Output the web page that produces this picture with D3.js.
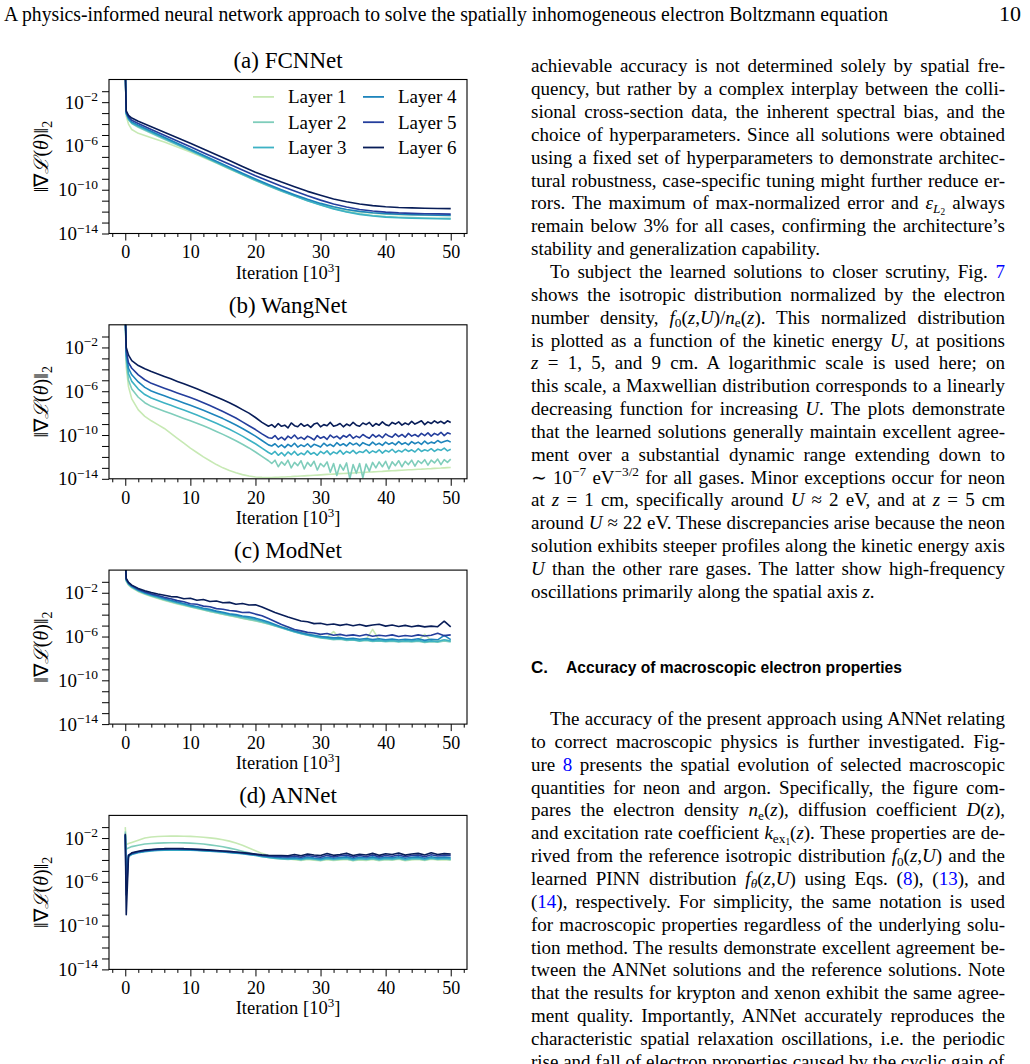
<!DOCTYPE html>
<html>
<head>
<meta charset="utf-8">
<script src="https://cdn.jsdelivr.net/npm/d3@7"></script>
<style>
body { margin: 0; background: #fff; }
svg { display: block; }
</style>
</head>
<body>
<script>
// ---- data: log10 of the gradient norm ----
var iterA = [0, 0.15, 0.5, 1, 2, 4, 6, 8, 10, 12, 14, 16, 18, 20, 22, 24, 26, 28, 30, 32, 34, 36, 38, 40, 42, 44, 46, 48, 50];

var fcnL1 = [1, -3.3, -4.0, -4.5, -4.85, -5.25, -5.65, -6.1, -6.55, -7.05, -7.57, -8.1, -8.63, -9.15, -9.63, -10.1, -10.53, -10.93, -11.3, -11.6, -11.85, -12.03, -12.15, -12.23, -12.28, -12.31, -12.33, -12.35, -12.36];
var fcnL2 = [1, -3.1, -3.6, -3.95, -4.3, -4.85, -5.38, -5.92, -6.45, -7.0, -7.54, -8.08, -8.62, -9.15, -9.65, -10.13, -10.58, -11.0, -11.38, -11.72, -12.0, -12.2, -12.35, -12.45, -12.51, -12.55, -12.58, -12.6, -12.62];
var fcnL3 = [1, -3.05, -3.55, -3.9, -4.2, -4.75, -5.3, -5.85, -6.4, -6.95, -7.5, -8.05, -8.6, -9.12, -9.62, -10.1, -10.56, -11.0, -11.4, -11.75, -12.03, -12.25, -12.4, -12.5, -12.56, -12.6, -12.63, -12.65, -12.67];
var fcnL4 = [1, -3.0, -3.45, -3.8, -4.1, -4.65, -5.2, -5.75, -6.3, -6.85, -7.4, -7.95, -8.5, -9.02, -9.52, -10.0, -10.45, -10.88, -11.25, -11.55, -11.8, -11.98, -12.1, -12.18, -12.24, -12.28, -12.31, -12.33, -12.35];
var fcnL5 = [1, -2.9, -3.35, -3.65, -3.95, -4.5, -5.02, -5.55, -6.08, -6.62, -7.15, -7.68, -8.2, -8.72, -9.2, -9.68, -10.12, -10.55, -10.95, -11.3, -11.58, -11.8, -11.95, -12.05, -12.12, -12.16, -12.19, -12.21, -12.23];
var fcnL6 = [1, -2.8, -3.2, -3.45, -3.75, -4.25, -4.75, -5.25, -5.75, -6.28, -6.8, -7.33, -7.87, -8.4, -8.85, -9.3, -9.72, -10.15, -10.5, -10.85, -11.1, -11.3, -11.45, -11.55, -11.62, -11.66, -11.69, -11.71, -11.73];

var iterB = [0, 0.15, 0.5, 1, 2, 3, 4, 5, 6, 7, 8, 9, 10, 11, 12, 13, 14, 15, 16, 17, 18, 19, 20, 21, 22,
  22.5, 23, 23.5, 24, 24.5, 25, 25.5, 26, 26.5, 27, 27.5, 28, 28.5, 29, 29.5, 30, 30.5, 31, 31.5, 32, 32.5, 33, 33.5, 34, 34.5, 35, 35.5, 36, 36.5,
  37, 37.5, 38, 38.5, 39, 39.5, 40, 40.5, 41, 41.5, 42, 42.5, 43, 43.5, 44, 44.5, 45, 45.5, 46, 46.5, 47, 47.5, 48, 48.5, 49, 49.5, 50];

var wangL1 = [1, -3.8, -5.6, -6.7, -7.7, -8.3, -8.7, -9.05, -9.4, -9.85, -10.3, -10.75, -11.2, -11.6, -12.0, -12.35, -12.7, -13.0, -13.25, -13.45, -13.62, -13.75, -13.83, -13.87, -13.88,
  -13.88, -13.87, -13.86, -13.84, -13.83, -13.81, -13.8, -13.78, -13.77, -13.75, -13.73, -13.71, -13.7, -13.68, -13.66, -13.64, -13.62, -13.6, -13.59, -13.57,
  -13.55, -13.53, -13.52, -13.5, -13.48, -13.47, -13.45, -13.43, -13.42, -13.4, -13.38, -13.37, -13.35, -13.33, -13.32, -13.3, -13.28, -13.27, -13.25, -13.23,
  -13.22, -13.2, -13.18, -13.17, -13.15, -13.13, -13.12, -13.1, -13.08, -13.07, -13.05, -13.03, -13.02, -13.0, -12.98, -12.97];
var wangL2 = [1, -3.2, -5.0, -5.8, -6.55, -7.05, -7.38, -7.6, -7.82, -8.04, -8.26, -8.48, -8.7, -8.92, -9.16, -9.41, -9.67, -9.94, -10.22, -10.52, -10.84, -11.18, -11.55, -11.95, -12.35,
  -12.6, -12.3, -12.9, -12.45, -12.75, -12.3, -13.0, -12.5, -12.8, -12.35, -13.1, -12.5, -12.85, -12.4, -13.2, -12.6, -12.9, -12.45, -13.4, -12.6,
  -13.7, -12.7, -13.2, -12.55, -14.0, -12.7, -13.5, -12.6, -13.9, -12.65, -13.3, -12.5, -13.0, -12.45, -12.9, -12.4, -13.1, -12.45, -12.8, -12.35,
  -12.9, -12.4, -12.7, -12.3, -12.85, -12.35, -12.6, -12.25, -12.75, -12.3, -12.55, -12.2, -12.7, -12.25, -12.5, -12.2];
var wangL3 = [1, -2.9, -4.4, -5.1, -5.8, -6.3, -6.62, -6.85, -7.07, -7.28, -7.5, -7.72, -7.95, -8.18, -8.42, -8.67, -8.93, -9.2, -9.48, -9.78, -10.1, -10.45, -10.8, -11.2, -11.6,
  -11.75, -11.5, -11.85, -11.6, -11.9, -11.55, -11.8, -11.5, -11.85, -11.65, -11.8, -11.45, -11.75, -11.6, -11.85, -11.5, -11.7, -11.45, -11.8, -11.55,
  -11.7, -11.4, -11.75, -11.5, -11.65, -11.4, -11.7, -11.5, -11.6, -11.35, -11.65, -11.45, -11.6, -11.35, -11.65, -11.4, -11.55, -11.3, -11.6, -11.4,
  -11.55, -11.3, -11.5, -11.35, -11.55, -11.25, -11.5, -11.35, -11.45, -11.25, -11.5, -11.3, -11.4, -11.2, -11.45, -11.3];
var wangL4 = [1, -2.6, -3.9, -4.5, -5.15, -5.65, -5.98, -6.2, -6.42, -6.63, -6.85, -7.07, -7.28, -7.5, -7.74, -7.98, -8.24, -8.5, -8.78, -9.08, -9.4, -9.75, -10.1, -10.5, -10.9,
  -11.0, -10.8, -11.1, -10.9, -11.15, -10.85, -11.05, -10.75, -11.1, -10.9, -11.05, -10.8, -11.1, -10.85, -10.95, -11.1, -10.75, -11.0, -10.85, -11.05,
  -10.7, -10.95, -10.8, -11.0, -10.7, -10.9, -10.75, -11.0, -10.7, -10.85, -10.95, -10.65, -10.9, -10.75, -10.95, -10.65, -10.85, -10.7, -10.9, -10.6,
  -10.85, -10.7, -10.9, -10.6, -10.8, -10.65, -10.85, -10.55, -10.8, -10.65, -10.75, -10.5, -10.7, -10.6, -10.5, -10.65];
var wangL5 = [1, -2.3, -3.4, -3.9, -4.5, -4.95, -5.28, -5.5, -5.72, -5.93, -6.15, -6.37, -6.58, -6.8, -7.05, -7.3, -7.57, -7.85, -8.15, -8.45, -8.8, -9.15, -9.5, -9.9, -10.25,
  -10.3, -10.05, -10.4, -10.2, -10.45, -10.1, -10.3, -10.0, -10.35, -10.2, -10.4, -10.1, -10.25, -10.45, -10.05, -10.3, -10.15, -10.4, -10.0, -10.25,
  -10.1, -10.35, -10.05, -10.2, -9.95, -10.3, -10.1, -10.25, -9.95, -10.15, -10.3, -9.95, -10.2, -10.0, -10.25, -9.9, -10.1, -10.2, -9.9, -10.15,
  -9.95, -10.2, -9.85, -10.1, -9.95, -10.15, -9.85, -10.05, -9.8, -10.1, -9.85, -10.0, -9.75, -10.05, -9.8, -9.9];
var wangL6 = [1, -2.0, -2.7, -3.2, -3.65, -3.95, -4.2, -4.42, -4.65, -4.87, -5.1, -5.32, -5.55, -5.78, -6.02, -6.27, -6.52, -6.78, -7.05, -7.35, -7.68, -8.0, -8.4, -8.85, -9.2,
  -9.05, -9.3, -8.95, -9.2, -9.1, -9.35, -8.9, -9.15, -9.25, -8.95, -9.2, -9.05, -9.3, -9.0, -8.9, -9.25, -9.05, -9.15, -8.85, -9.2,
  -9.1, -8.95, -9.25, -9.0, -9.15, -8.85, -9.1, -9.2, -8.9, -9.05, -8.85, -9.2, -8.95, -9.1, -8.8, -9.05, -9.15, -8.85, -9.0, -8.8,
  -9.1, -8.9, -9.05, -8.75, -9.0, -8.85, -8.7, -9.05, -8.8, -8.95, -8.7, -8.9, -8.75, -8.95, -8.7, -8.85];

var iterN = [0, 0.15, 0.5, 1, 2, 3, 4, 5, 6, 7, 8, 9, 10, 11, 12, 13, 14, 15, 16, 17, 18, 19, 20, 21, 22, 23, 24, 25, 26, 27, 28, 29, 30, 31, 32, 33, 34, 35, 36, 37, 38, 39, 40, 41, 42, 43, 44, 45, 46, 47, 48, 49, 50];

var modL1 = [1, -0.95, -1.3, -1.55, -1.9, -2.14, -2.34, -2.52, -2.7, -2.86, -3.02, -3.16, -3.3, -3.44, -3.58, -3.72, -3.84, -3.96, -4.1, -4.22, -4.34, -4.46, -4.58, -4.72, -4.86, -5.02, -5.18, -5.1, -5.45, -5.6, -5.75, -5.88, -5.98, -6.08, -5.55, -6.18, -6.25, -6.22, -6.3, -6.28, -5.35, -6.32, -6.36, -6.3, -6.38, -6.34, -6.4, -6.35, -5.8, -6.38, -6.42, -6.3, -6.4];
var modL2 = [1, -0.9, -1.25, -1.5, -1.85, -2.1, -2.3, -2.48, -2.66, -2.82, -2.98, -3.12, -3.28, -3.42, -3.56, -3.7, -3.82, -3.95, -4.08, -4.2, -4.32, -4.44, -4.56, -4.7, -4.86, -5.04, -5.22, -5.4, -5.58, -5.74, -5.88, -6.02, -6.12, -6.2, -6.28, -6.25, -6.35, -6.32, -6.42, -6.35, -6.45, -6.4, -6.48, -6.42, -6.5, -6.45, -6.5, -6.42, -6.55, -6.48, -6.52, -6.4, -6.5];
var modL3 = [1, -0.85, -1.2, -1.46, -1.8, -2.05, -2.25, -2.42, -2.6, -2.76, -2.92, -3.06, -3.22, -3.35, -3.5, -3.62, -3.76, -3.88, -4.0, -4.1, -4.22, -4.32, -4.45, -4.6, -4.78, -4.98, -5.18, -5.38, -5.55, -5.72, -5.85, -5.98, -6.08, -6.15, -6.22, -6.2, -6.3, -6.28, -6.38, -6.3, -6.4, -6.35, -6.42, -6.36, -6.45, -6.38, -6.42, -6.35, -6.48, -6.4, -6.45, -6.3, -6.42];
var modL4 = [1, -0.8, -1.15, -1.42, -1.75, -2.0, -2.18, -2.35, -2.52, -2.68, -2.85, -2.98, -3.15, -3.25, -3.42, -3.52, -3.68, -3.78, -3.92, -4.0, -4.12, -4.2, -4.32, -4.48, -4.68, -4.9, -5.12, -5.32, -5.5, -5.65, -5.8, -5.88, -6.0, -6.05, -6.12, -6.1, -6.2, -6.15, -6.25, -6.18, -6.28, -6.2, -6.3, -6.22, -6.32, -6.25, -6.3, -6.2, -6.35, -6.25, -6.3, -5.9, -6.28];
var modL5 = [1, -0.75, -1.1, -1.35, -1.68, -1.92, -2.1, -2.25, -2.42, -2.55, -2.72, -2.82, -3.0, -3.05, -3.22, -3.28, -3.45, -3.5, -3.62, -3.68, -3.8, -3.78, -3.95, -4.1, -4.35, -4.62, -4.9, -5.12, -5.35, -5.48, -5.62, -5.68, -5.8, -5.72, -5.88, -5.8, -5.92, -5.85, -5.95, -5.82, -5.98, -5.88, -5.95, -5.85, -6.0, -5.9, -5.98, -5.85, -5.95, -5.88, -5.7, -5.92, -5.85];
var modL6 = [1, -0.7, -1.05, -1.3, -1.6, -1.82, -1.98, -2.12, -2.22, -2.35, -2.38, -2.55, -2.5, -2.68, -2.62, -2.8, -2.76, -2.92, -2.88, -3.05, -2.98, -3.12, -3.1, -3.3, -3.55, -3.8, -4.0, -4.22, -4.4, -4.58, -4.65, -4.82, -4.78, -4.92, -4.85, -4.98, -4.88, -5.02, -4.9, -5.05, -4.95, -4.88, -5.05, -4.95, -5.08, -4.98, -5.1, -5.0, -5.12, -5.05, -5.1, -4.6, -5.12];

var annL1 = [-1.0, -2.6, -2.5, -2.4, -2.2, -2.0, -1.9, -1.86, -1.83, -1.82, -1.82, -1.83, -1.85, -1.88, -1.92, -1.98, -2.05, -2.15, -2.28, -2.45, -2.65, -2.9, -3.15, -3.4, -3.6, -3.75, -3.85, -3.92,
  -3.98, -4.05, -3.96, -4.02, -4.08, -3.97, -4.04, -4.0, -3.96, -4.08, -3.99, -4.04, -3.95, -4.06, -3.98, -4.02, -3.94, -4.07, -3.99, -3.95, -4.04, -3.93, -4.01, -3.97, -4.02];
var annL2 = [-1.4, -3.0, -2.9, -2.78, -2.65, -2.55, -2.5, -2.46, -2.44, -2.43, -2.43, -2.44, -2.46, -2.5, -2.55, -2.62, -2.7, -2.8, -2.92, -3.05, -3.2, -3.35, -3.5, -3.65, -3.78, -3.86, -3.9, -3.95,
  -3.9, -4.0, -3.92, -3.96, -4.04, -3.92, -3.99, -3.94, -3.9, -4.04, -3.93, -3.98, -3.9, -4.02, -3.93, -3.97, -3.89, -4.02, -3.94, -3.9, -4.0, -3.88, -3.96, -3.92, -3.98];
var annL3 = [-1.7, -4.5, -3.7, -3.5, -3.35, -3.25, -3.18, -3.14, -3.12, -3.1, -3.1, -3.1, -3.12, -3.14, -3.17, -3.2, -3.24, -3.28, -3.33, -3.38, -3.44, -3.52, -3.6, -3.7, -3.78, -3.84, -3.88, -3.9,
  -3.88, -3.96, -3.85, -3.9, -3.97, -3.86, -3.94, -3.88, -3.84, -3.97, -3.87, -3.93, -3.84, -3.95, -3.86, -3.9, -3.83, -3.96, -3.87, -3.84, -3.95, -3.82, -3.9, -3.86, -3.9];
var annL4 = [-1.7, -5.5, -3.6, -3.45, -3.3, -3.2, -3.13, -3.08, -3.06, -3.05, -3.05, -3.06, -3.08, -3.1, -3.13, -3.17, -3.21, -3.25, -3.3, -3.35, -3.4, -3.47, -3.54, -3.62, -3.7, -3.76, -3.8, -3.82,
  -3.8, -3.86, -3.74, -3.82, -3.88, -3.75, -3.84, -3.78, -3.72, -3.86, -3.76, -3.82, -3.72, -3.85, -3.76, -3.8, -3.7, -3.84, -3.76, -3.72, -3.84, -3.7, -3.8, -3.74, -3.78];
var annL5 = [-1.75, -7.2, -3.55, -3.4, -3.25, -3.15, -3.08, -3.03, -3.0, -2.99, -2.99, -3.0, -3.02, -3.05, -3.08, -3.12, -3.16, -3.2, -3.25, -3.3, -3.36, -3.42, -3.5, -3.58, -3.64, -3.68, -3.7, -3.72,
  -3.65, -3.75, -3.6, -3.68, -3.76, -3.58, -3.72, -3.62, -3.56, -3.74, -3.6, -3.7, -3.55, -3.72, -3.6, -3.66, -3.54, -3.7, -3.6, -3.56, -3.7, -3.52, -3.64, -3.58, -3.6];
var annL6 = [-1.6, -9.0, -3.6, -3.35, -3.2, -3.1, -3.04, -3.0, -2.97, -2.96, -2.96, -2.97, -3.0, -3.03, -3.06, -3.1, -3.14, -3.18, -3.22, -3.27, -3.33, -3.4, -3.47, -3.54, -3.58, -3.6, -3.6, -3.62,
  -3.5, -3.62, -3.45, -3.55, -3.6, -3.42, -3.58, -3.5, -3.38, -3.6, -3.48, -3.55, -3.4, -3.58, -3.44, -3.5, -3.36, -3.56, -3.46, -3.4, -3.55, -3.35, -3.5, -3.42, -3.45];

var layerNames = ["Layer 1", "Layer 2", "Layer 3", "Layer 4", "Layer 5", "Layer 6"];
var panelTitles = ["(a) FCNNet", "(b) WangNet", "(c) ModNet", "(d) ANNet"];
var xMajor = [0, 10, 20, 30, 40, 50];
var xMinor = [-2, 2, 4, 6, 8, 12, 14, 16, 18, 22, 24, 26, 28, 32, 34, 36, 38, 42, 44, 46, 48, 52];
var yDecades = [-14, -13, -12, -11, -10, -9, -8, -7, -6, -5, -4, -3, -2, -1];
var yLabelled = [-14, -10, -6, -2];

var headerText = "A physics-informed neural network approach to solve the spatially inhomogeneous electron Boltzmann equation";
var pageNumber = "10";
var para1 = [
  "achievable accuracy is not determined solely by spatial fre-",
  "quency, but rather by a complex interplay between the colli-",
  "sional cross-section data, the inherent spectral bias, and the",
  "choice of hyperparameters. Since all solutions were obtained",
  "using a fixed set of hyperparameters to demonstrate architec-",
  "tural robustness, case-specific tuning might further reduce er-",
  "rors. The maximum of max-normalized error and *ε*_{*L*_{2}} always",
  "remain below 3% for all cases, confirming the architecture’s",
  "stability and generalization capability."
];
var para2 = [
  "To subject the learned solutions to closer scrutiny, Fig. [7]",
  "shows the isotropic distribution normalized by the electron",
  "number density, *f*_{0}(*z*,*U*)/*n*_{e}(*z*). This normalized distribution",
  "is plotted as a function of the kinetic energy *U*, at positions",
  "*z* = 1, 5, and 9 cm. A logarithmic scale is used here; on",
  "this scale, a Maxwellian distribution corresponds to a linearly",
  "decreasing function for increasing *U*. The plots demonstrate",
  "that the learned solutions generally maintain excellent agree-",
  "ment over a substantial dynamic range extending down to",
  "∼ 10^{−7} eV^{−3/2} for all gases. Minor exceptions occur for neon",
  "at *z* = 1 cm, specifically around *U* ≈ 2 eV, and at *z* = 5 cm",
  "around *U* ≈ 22 eV. These discrepancies arise because the neon",
  "solution exhibits steeper profiles along the kinetic energy axis",
  "*U* than the other rare gases. The latter show high-frequency",
  "oscillations primarily along the spatial axis *z*."
];
var headingNum = "C.";
var headingText = "Accuracy of macroscopic electron properties";
var para3 = [
  "The accuracy of the present approach using ANNet relating",
  "to correct macroscopic physics is further investigated. Fig-",
  "ure [8] presents the spatial evolution of selected macroscopic",
  "quantities for neon and argon. Specifically, the figure com-",
  "pares the electron density *n*_{e}(*z*), diffusion coefficient *D*(*z*),",
  "and excitation rate coefficient *k*_{ex_{1}}(*z*). These properties are de-",
  "rived from the reference isotropic distribution *f*_{0}(*z*,*U*) and the",
  "learned PINN distribution *f*_{*θ*}(*z*,*U*) using Eqs. ([8]), ([13]), and",
  "([14]), respectively. For simplicity, the same notation is used",
  "for macroscopic properties regardless of the underlying solu-",
  "tion method. The results demonstrate excellent agreement be-",
  "tween the ANNet solutions and the reference solutions. Note",
  "that the results for krypton and xenon exhibit the same agree-",
  "ment quality. Importantly, ANNet accurately reproduces the",
  "characteristic spatial relaxation oscillations, i.e. the periodic",
  "rise and fall of electron properties caused by the cyclic gain of"
];

// ---- styles ----
var layerColors = ["#c7e9b4", "#7fcdbb", "#3db2c4", "#1e85bc", "#243e9c", "#081d58"];
var serif = "'Liberation Serif', 'Times New Roman', serif";
var sans = "'Liberation Sans', Arial, sans-serif";

var svg = d3.select("body").append("svg")
    .attr("width", 1030)
    .attr("height", 1064);

// rich text: *italic*, [link], ^{sup}, _{sub}
function addRich(sel, str, size) {
    var parts = str.split(/(\*|\[|\]|\^\{|_\{|\})/);
    var italic = false, blue = false, stack = [{s: size, sh: 0}], cur = 0;
    parts.forEach(function(p) {
        if (p === "") return;
        var top = stack[stack.length - 1];
        if (p === "*") { italic = !italic; return; }
        if (p === "[") { blue = true; return; }
        if (p === "]") { blue = false; return; }
        if (p === "^{") { stack.push({s: top.s * 0.7, sh: top.sh - top.s * 0.38}); return; }
        if (p === "_{") { stack.push({s: top.s * 0.7, sh: top.sh + top.s * 0.18}); return; }
        if (p === "}") { stack.pop(); return; }
        sel.append("tspan")
            .attr("font-size", top.s)
            .attr("dy", top.sh - cur)
            .attr("font-style", italic ? "italic" : null)
            .attr("fill", blue ? "#0000ff" : null)
            .text(p);
        cur = top.sh;
    });
}

// ---- page header ----
svg.append("text")
    .attr("x", 4).attr("y", 21)
    .attr("font-family", serif).attr("font-size", 22)
    .attr("textLength", 884).attr("lengthAdjust", "spacingAndGlyphs")
    .text(headerText);
svg.append("text")
    .attr("x", 1021).attr("y", 21)
    .attr("text-anchor", "end")
    .attr("font-family", serif).attr("font-size", 22)
    .text(pageNumber);

// ---- right column text ----
var colLeft = 531, colRight = 1005, lineGap = 22.85, bodySize = 19;

function drawPara(lines, y0, indentFirst) {
    lines.forEach(function(s, i) {
        var x0 = colLeft + (i === 0 && indentFirst ? 19 : 0);
        var t = svg.append("text")
            .attr("x", x0).attr("y", y0 + i * lineGap)
            .attr("font-family", serif).attr("font-size", bodySize)
            .attr("fill", "#000");
        addRich(t, s, bodySize);
        if (i < lines.length - 1) {
            var w = t.node().getComputedTextLength();
            var n = (t.text().match(/ /g) || []).length;
            t.style("word-spacing", ((colRight - x0 - w) / n) + "px");
        }
    });
}
drawPara(para1, 72.3, false);
drawPara(para2, 72.3 + para1.length * lineGap, true);

svg.append("text")
    .attr("x", colLeft).attr("y", 673)
    .attr("font-family", sans).attr("font-size", 17).attr("font-weight", "bold")
    .text(headingNum);
svg.append("text")
    .attr("x", 566).attr("y", 673)
    .attr("font-family", sans).attr("font-size", 17).attr("font-weight", "bold")
    .attr("textLength", 336).attr("lengthAdjust", "spacingAndGlyphs")
    .text(headingText);

drawPara(para3, 725, true);

// ---- the four panels ----
var panels = [
    {iter: iterA, series: [fcnL1, fcnL2, fcnL3, fcnL4, fcnL5, fcnL6]},
    {iter: iterB, series: [wangL1, wangL2, wangL3, wangL4, wangL5, wangL6]},
    {iter: iterN, series: [modL1, modL2, modL3, modL4, modL5, modL6]},
    {iter: iterN, series: [annL1, annL2, annL3, annL4, annL5, annL6]}
];

var left = 109, right = 467, plotH = 154;
var x = d3.scaleLinear().domain([-2.5, 52.5]).range([left, right]);

panels.forEach(function(p, k) {
    var top = 79.5 + k * 245.3, bottom = top + plotH;
    var y = d3.scaleLog().domain([1e-14, Math.pow(10, 0.07)]).range([bottom, top]);
    var g = svg.append("g");

    g.append("defs").append("clipPath")
        .attr("id", "clip" + k)
        .append("rect")
        .attr("x", left).attr("y", top)
        .attr("width", right - left).attr("height", plotH);

    var line = d3.line()
        .x(function(d, i) { return x(p.iter[i]); })
        .y(function(d) { return y(Math.pow(10, d)); });

    g.append("g")
        .attr("clip-path", "url(#clip" + k + ")")
        .selectAll("path")
        .data(p.series)
        .enter()
        .append("path")
        .attr("d", line)
        .attr("fill", "none")
        .attr("stroke", function(d, i) { return layerColors[i]; })
        .attr("stroke-width", 1.6)
        .attr("stroke-linejoin", "round");

    // x axis
    var xa = g.append("g")
        .attr("transform", "translate(0," + bottom + ")")
        .call(d3.axisBottom(x).tickValues(xMajor).tickSize(7).tickPadding(5).tickFormat(d3.format("d")));
    xa.select(".domain").remove();
    xa.attr("font-family", serif).attr("font-size", 18);
    xa.selectAll("text").attr("fill", "#000");

    var xm = g.append("g")
        .attr("transform", "translate(0," + bottom + ")")
        .call(d3.axisBottom(x).tickValues(xMinor).tickSize(3.5).tickFormat(""));
    xm.select(".domain").remove();

    // y axis
    var ya = g.append("g")
        .attr("transform", "translate(" + left + ",0)")
        .call(d3.axisLeft(y).tickValues(yDecades.map(function(e) { return Math.pow(10, e); }))
            .tickSize(7).tickFormat(""));
    ya.select(".domain").remove();

    yLabelled.forEach(function(e) {
        var t = g.append("text")
            .attr("x", 98).attr("y", y(Math.pow(10, e)) + 6.5)
            .attr("text-anchor", "end")
            .attr("font-family", serif).attr("font-size", 19);
        t.append("tspan").text("10");
        t.append("tspan").attr("font-size", 13.5).attr("dy", -7.5).text("−" + Math.abs(e));
    });

    // frame
    g.append("rect")
        .attr("x", left).attr("y", top)
        .attr("width", right - left).attr("height", plotH)
        .attr("fill", "none").attr("stroke", "#000").attr("stroke-width", 1.1);

    // title
    g.append("text")
        .attr("x", (left + right) / 2).attr("y", top - 12)
        .attr("text-anchor", "middle")
        .attr("font-family", serif).attr("font-size", 23)
        .text(panelTitles[k]);

    // x label
    var xl = g.append("text")
        .attr("x", (left + right) / 2).attr("y", bottom + 45)
        .attr("text-anchor", "middle")
        .attr("font-family", serif).attr("font-size", 18.5);
    xl.append("tspan").text("Iteration [10");
    xl.append("tspan").attr("font-size", 13).attr("dy", -7).text("3");
    xl.append("tspan").attr("dy", 7).text("]");

    // y label
    var yl = g.append("text")
        .attr("transform", "translate(48," + ((top + bottom) / 2) + ") rotate(-90)")
        .attr("text-anchor", "middle")
        .attr("font-family", serif).attr("font-size", 20);
    yl.append("tspan").text("‖∇");
    yl.append("tspan").attr("font-style", "italic").text("ℒ");
    yl.append("tspan").text("(");
    yl.append("tspan").attr("font-style", "italic").text("θ");
    yl.append("tspan").text(")‖");
    yl.append("tspan").attr("font-size", 14).attr("dy", 4).text("2");

    // legend only in the first panel
    if (k === 0) {
        var leg = g.append("g");
        layerNames.forEach(function(name, i) {
            var col = Math.floor(i / 3), row = i % 3;
            var lx = 253 + col * 110, ly = top + 17.4 + row * 25.3;
            leg.append("line")
                .attr("x1", lx).attr("x2", lx + 21)
                .attr("y1", ly).attr("y2", ly)
                .attr("stroke", layerColors[i]).attr("stroke-width", 1.8);
            leg.append("text")
                .attr("x", lx + 35).attr("y", ly + 6.5)
                .attr("font-family", serif).attr("font-size", 19)
                .text(name);
        });
    }
});
</script>
</body>
</html>
